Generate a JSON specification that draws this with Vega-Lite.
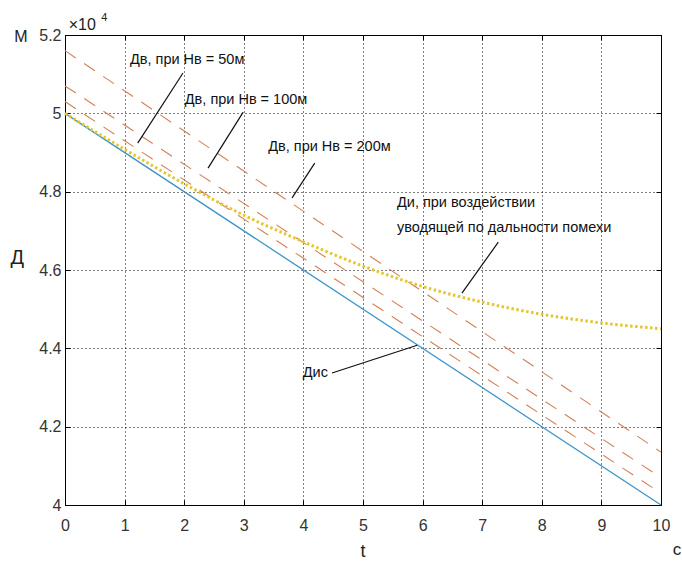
{
  "$schema": "https://vega.github.io/schema/vega-lite/v6.json",
  "width": 596,
  "height": 470,
  "autosize": {"type": "none"},
  "padding": {"left": 65, "top": 35, "right": 21, "bottom": 57},
  "background": "white",
  "config": {
    "font": "Liberation Sans",
    "view": {"stroke": "#000", "strokeWidth": 1},
    "axis": {
      "domainColor": "#000",
      "tickColor": "#000",
      "labelColor": "#333",
      "labelFont": "Liberation Sans",
      "labelFontSize": 16,
      "gridColor": "#000",
      "gridDash": [1, 3],
      "gridOpacity": 1
    }
  },
  "datasets": {
    "dis": [{"t": 0, "v": 50000}, {"t": 10, "v": 40000}],
    "dv": [
      {"s": "50", "t": 0, "v": 50300}, {"s": "50", "t": 10, "v": 40300},
      {"s": "100", "t": 0, "v": 50700}, {"s": "100", "t": 10, "v": 40700},
      {"s": "200", "t": 0, "v": 51600}, {"s": "200", "t": 10, "v": 41350}
    ],
    "di": [
      {"t": 0, "v": 50000}, {"t": 1, "v": 49080}, {"t": 2, "v": 48200},
      {"t": 3, "v": 47400}, {"t": 4, "v": 46720}, {"t": 5, "v": 46100},
      {"t": 6, "v": 45580}, {"t": 7, "v": 45180}, {"t": 8, "v": 44870},
      {"t": 9, "v": 44650}, {"t": 10, "v": 44500}
    ],
    "pointers": [
      {"t1": 1.98, "v1": 51030, "t2": 1.22, "v2": 49240},
      {"t1": 2.99, "v1": 50030, "t2": 2.40, "v2": 48600},
      {"t1": 4.19, "v1": 48730, "t2": 3.81, "v2": 47840},
      {"t1": 7.27, "v1": 46710, "t2": 6.66, "v2": 45410},
      {"t1": 4.48, "v1": 43370, "t2": 5.91, "v2": 44080}
    ],
    "labels": [
      {"t": 1.09, "v": 51360, "txt": "Дв, при Нв = 50м"},
      {"t": 2.01, "v": 50340, "txt": "Дв, при Нв = 100м"},
      {"t": 3.41, "v": 49140, "txt": "Дв, при Нв = 200м"},
      {"t": 5.57, "v": 47710, "txt": "Ди, при воздействии"},
      {"t": 5.57, "v": 47070, "txt": "уводящей по дальности помехи"},
      {"t": 3.99, "v": 43370, "txt": "Дис"}
    ],
    "outer": [
      {"t": -0.74, "v": 51950, "txt": "М", "fs": 16},
      {"t": 0.29, "v": 52255, "txt": "×10", "fs": 16},
      {"t": 0.66, "v": 52433, "txt": "4", "fs": 11},
      {"t": -0.8, "v": 46306, "txt": "Д", "fs": 20},
      {"t": 5.0, "v": 38790, "txt": "t", "fs": 18},
      {"t": 10.27, "v": 38860, "txt": "с", "fs": 17}
    ]
  },
  "resolve": {"axis": {"x": "independent", "y": "independent"}},
  "layer": [
    {
      "data": {"name": "dis"},
      "mark": {"type": "line", "color": "#3d93c9", "strokeWidth": 1.3},
      "encoding": {
        "x": {
          "field": "t", "type": "quantitative",
          "scale": {"domain": [0, 10], "nice": false},
          "axis": {
            "orient": "bottom", "title": null, "values": [0,1,2,3,4,5,6,7,8,9,10],
            "grid": true, "tickSize": -5, "labelPadding": 17, "labelFlush": false,
            "labelFontSize": 16
          }
        },
        "y": {
          "field": "v", "type": "quantitative",
          "scale": {"domain": [40000, 52000], "nice": false, "zero": false},
          "axis": {
            "orient": "left", "title": null,
            "values": [40000, 42000, 44000, 46000, 48000, 50000, 52000],
            "labelExpr": "format(datum.value / 10000, '.1~f')",
            "grid": true, "tickSize": -5, "labelPadding": 9, "labelFlush": false,
            "labelFontSize": 16
          }
        }
      }
    },
    {
      "data": {"name": "dis"},
      "mark": {"type": "point", "opacity": 0},
      "encoding": {
        "x": {
          "field": "t", "type": "quantitative",
          "axis": {"orient": "top", "title": null, "labels": false, "grid": false,
                   "tickSize": -5, "values": [0,1,2,3,4,5,6,7,8,9,10]}
        },
        "y": {
          "field": "v", "type": "quantitative",
          "axis": {"orient": "right", "title": null, "labels": false, "grid": false,
                   "tickSize": -5, "values": [40000, 42000, 44000, 46000, 48000, 50000, 52000]}
        }
      }
    },
    {
      "data": {"name": "dv"},
      "mark": {"type": "line", "color": "#d67f55", "strokeWidth": 1.1, "strokeDash": [13, 10]},
      "encoding": {
        "x": {"field": "t", "type": "quantitative", "axis": null},
        "y": {"field": "v", "type": "quantitative", "axis": null},
        "detail": {"field": "s"}
      }
    },
    {
      "data": {"name": "di"},
      "mark": {"type": "line", "color": "#e5c630", "strokeWidth": 3, "strokeDash": [2.5, 2.5], "interpolate": "monotone"},
      "encoding": {
        "x": {"field": "t", "type": "quantitative", "axis": null},
        "y": {"field": "v", "type": "quantitative", "axis": null}
      }
    },
    {
      "data": {"name": "pointers"},
      "mark": {"type": "rule", "color": "#111", "strokeWidth": 1.2},
      "encoding": {
        "x": {"field": "t1", "type": "quantitative", "axis": null},
        "y": {"field": "v1", "type": "quantitative", "axis": null},
        "x2": {"field": "t2"},
        "y2": {"field": "v2"}
      }
    },
    {
      "data": {"name": "labels"},
      "mark": {"type": "text", "align": "left", "baseline": "middle", "fontSize": 14.5, "color": "#111", "font": "Liberation Sans"},
      "encoding": {
        "x": {"field": "t", "type": "quantitative", "axis": null},
        "y": {"field": "v", "type": "quantitative", "axis": null},
        "text": {"field": "txt"}
      }
    },
    {
      "data": {"name": "outer"},
      "mark": {"type": "text", "align": "center", "baseline": "middle", "color": "#222", "font": "Liberation Sans", "clip": false},
      "encoding": {
        "x": {"field": "t", "type": "quantitative", "axis": null},
        "y": {"field": "v", "type": "quantitative", "axis": null},
        "text": {"field": "txt"},
        "size": {"field": "fs", "type": "quantitative", "scale": null, "legend": null}
      }
    }
  ]
}
